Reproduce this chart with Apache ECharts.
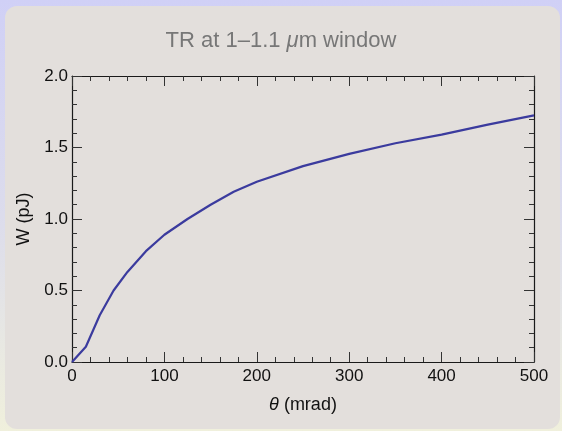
<!DOCTYPE html>
<html>
<head>
<meta charset="utf-8">
<script src="https://cdn.jsdelivr.net/npm/echarts@6/dist/echarts.min.js"></script>
<style>
  html, body { margin: 0; padding: 0; }
  body {
    width: 562px; height: 431px; overflow: hidden;
    background: linear-gradient(to bottom, #d0d0f6 0%, #dcdcec 50%, #f0f0dc 100%);
  }
  #main { width: 562px; height: 431px; }
</style>
</head>
<body>
<div id="main"></div>
<script>
// angle (mrad) and radiated energy (pJ)
var theta = [0, 15, 30, 45, 60, 80, 100, 125, 150, 175, 200, 250, 300, 350, 400, 450, 500];
var energy = [0, 0.107, 0.327, 0.50, 0.63, 0.775, 0.89, 1.0, 1.10, 1.19, 1.26, 1.37, 1.455, 1.53, 1.59, 1.66, 1.725];

var xTicks = [0, 100, 200, 300, 400, 500];
var yTicks = ['0.0', '0.5', '1.0', '1.5', '2.0'];

var pts = [];
for (var i = 0; i < theta.length; i++) {
  pts.push([theta[i], energy[i]]);
}

var font = 'Liberation Sans, Arial, Helvetica, sans-serif';

var chart = echarts.init(document.getElementById('main'), null, { renderer: 'canvas' });

// shared look: frame line, inward major + minor ticks
function makeAxis(extra) {
  var base = {
    type: 'value',
    axisLine: { show: true, onZero: false, lineStyle: { color: '#1a1a1a', width: 1.2 } },
    axisTick: { show: true, inside: true, length: 10, lineStyle: { color: '#333', width: 1 } },
    minorTick: { show: true, splitNumber: 5, length: 5, lineStyle: { color: '#333', width: 1 } },
    splitLine: { show: false },
    minorSplitLine: { show: false },
    axisLabel: { show: false }
  };
  for (var k in extra) base[k] = extra[k];
  return base;
}

var xBottom = makeAxis({
  min: 0, max: 500, interval: 100, position: 'bottom',
  name: '{i|θ} (mrad)',
  nameLocation: 'middle',
  nameGap: 34,
  nameTextStyle: {
    fontSize: 18, color: '#111', fontFamily: font,
    rich: { i: { fontStyle: 'italic', fontSize: 18, color: '#111', fontFamily: font } }
  },
  axisLabel: {
    show: true, fontSize: 17, color: '#111', fontFamily: font, margin: 6,
    formatter: function (v) { return xTicks.indexOf(v) >= 0 ? String(v) : ''; }
  }
});

var xTop = makeAxis({ min: 0, max: 500, interval: 100, position: 'top' });

var yLeft = makeAxis({
  min: 0, max: 2, interval: 0.5, position: 'left',
  name: 'W (pJ)',
  nameLocation: 'middle',
  nameGap: 35,
  nameRotate: 90,
  nameTextStyle: { fontSize: 18, color: '#111', fontFamily: font },
  axisLabel: {
    show: true, fontSize: 17, color: '#111', fontFamily: font, margin: 4,
    formatter: function (v) { return yTicks[Math.round(v / 0.5)]; }
  }
});

var yRight = makeAxis({ min: 0, max: 2, interval: 0.5, position: 'right' });

var option = {
  backgroundColor: 'transparent',
  animation: false,
  graphic: [{
    type: 'rect',
    z: -10,
    silent: true,
    shape: { x: 5, y: 6, width: 555, height: 423, r: 12 },
    style: { fill: '#e3dfdc' }
  }],
  title: {
    text: 'TR at 1–1.1 {i|μ}m window',
    left: 'center',
    top: 25,
    textStyle: {
      fontSize: 22, fontWeight: 'normal', color: '#777', fontFamily: font,
      rich: { i: { fontStyle: 'italic', fontSize: 22, color: '#777', fontFamily: font } }
    }
  },
  grid: { left: 72, right: 28, top: 76, bottom: 69, containLabel: false },
  xAxis: [xBottom, xTop],
  yAxis: [yLeft, yRight],
  series: [{
    type: 'line',
    data: pts,
    showSymbol: false,
    smooth: false,
    clip: true,
    lineStyle: { color: '#3b3b9e', width: 2.2 }
  }]
};

chart.setOption(option);
</script>
</body>
</html>
